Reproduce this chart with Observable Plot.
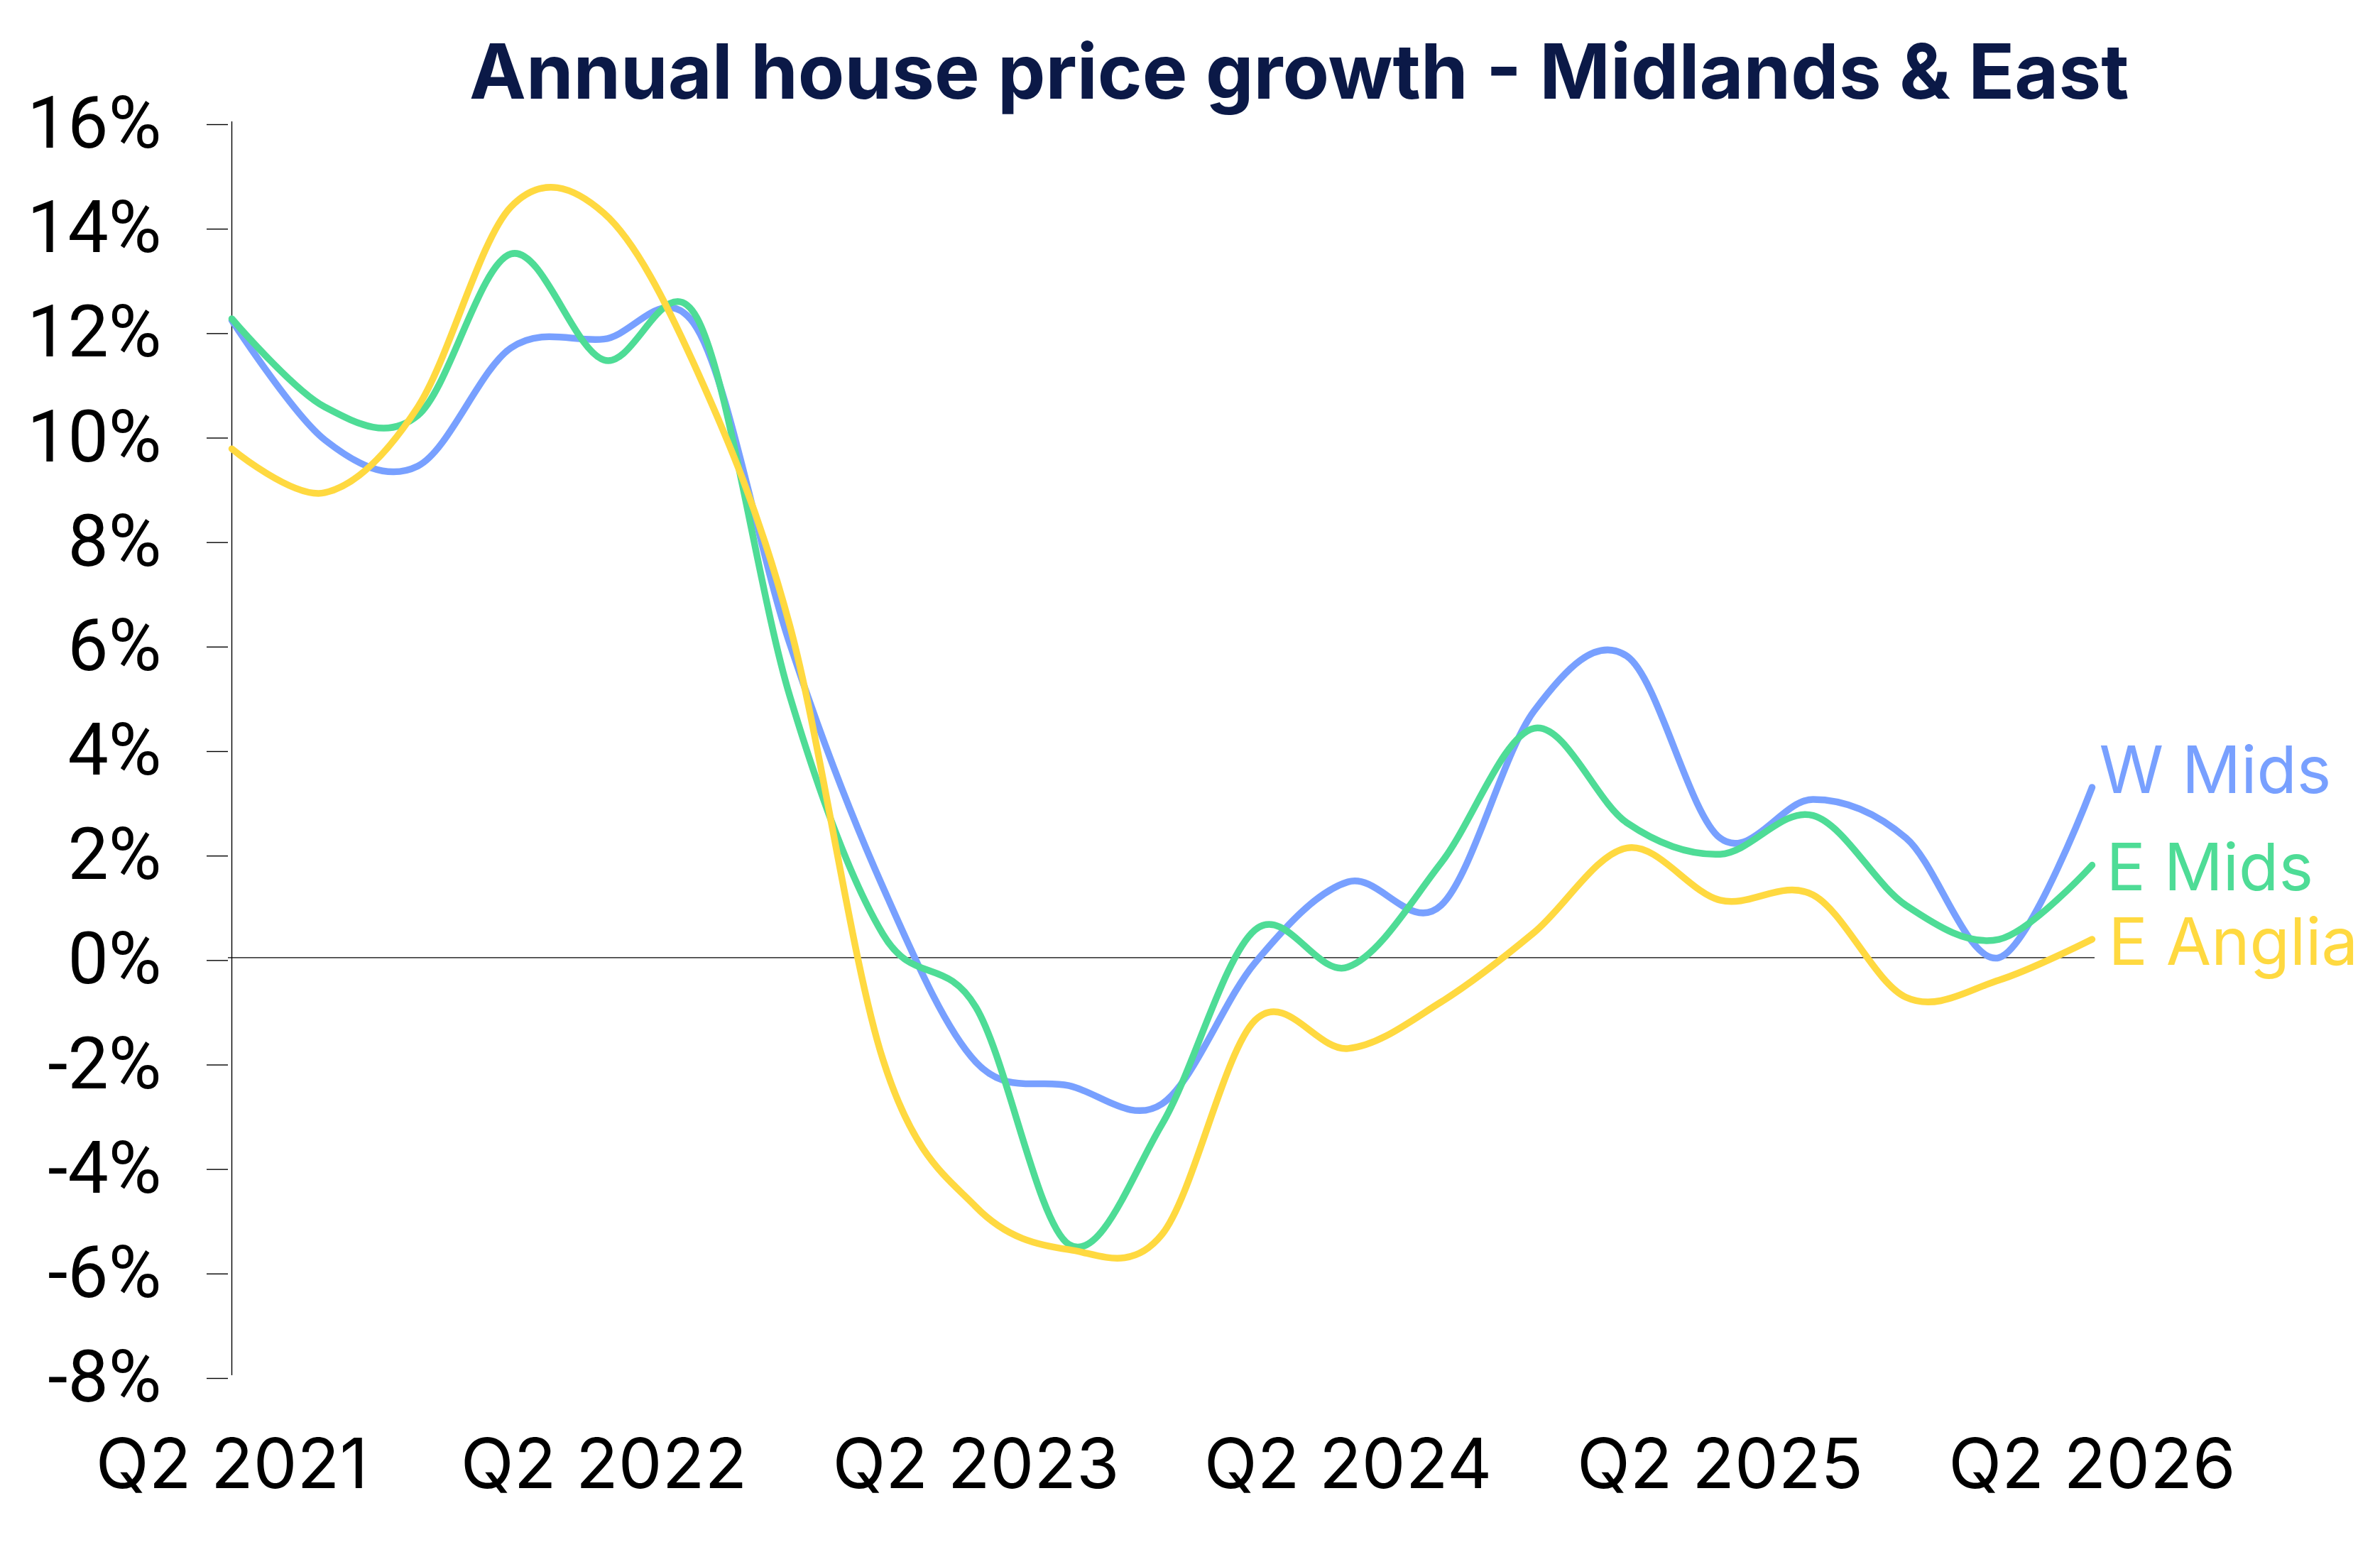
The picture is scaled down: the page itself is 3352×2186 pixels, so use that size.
<!DOCTYPE html>
<html>
<head>
<meta charset="utf-8">
<script src="https://cdn.jsdelivr.net/npm/d3@7"></script>
<script src="https://cdn.jsdelivr.net/npm/@observablehq/plot@0.6"></script>
<style>
  html, body { margin: 0; padding: 0; background: #ffffff; }
  #chart { width: 3352px; height: 2186px; }
</style>
</head>
<body>
<div id="chart"></div>
<script>
// ---- Data ----
const chartTitle = "Annual house price growth - Midlands & East";
const quarters = [
  "Q2 2021","Q3 2021","Q4 2021","Q1 2022",
  "Q2 2022","Q3 2022","Q4 2022","Q1 2023",
  "Q2 2023","Q3 2023","Q4 2023","Q1 2024",
  "Q2 2024","Q3 2024","Q4 2024","Q1 2025",
  "Q2 2025","Q3 2025","Q4 2025","Q1 2026",
  "Q2 2026"
];
const xTickLabels = ["Q2 2021","Q2 2022","Q2 2023","Q2 2024","Q2 2025","Q2 2026"];
const yTicks = [-8, -6, -4, -2, 0, 2, 4, 6, 8, 10, 12, 14, 16];
const seriesNames = ["W Mids", "E Mids", "E Anglia"];
const wMids   = [12.2, 9.91, 9.41, 11.67, 11.84, 12.05, 6.0, 1.35, -2.0, -2.45, -2.8, -0.1, 1.45, 1.0, 4.72, 5.77, 2.29, 3.03, 2.29, 0.0, 3.26];
const eMids   = [12.23, 10.54, 10.38, 13.47, 11.44, 12.25, 5.0, 0.45, -0.95, -5.49, -3.19, 0.53, -0.18, 1.81, 4.39, 2.58, 1.98, 2.72, 1.0, 0.35, 1.77];
const eAnglia = [9.74, 8.9, 10.54, 14.37, 14.25, 11.24, 6.35, -1.95, -4.77, -5.59, -5.3, -1.2, -1.74, -0.85, 0.48, 2.1, 1.1, 1.2, -0.76, -0.43, 0.35];
const seriesColors = ["#78a0ff", "#4edc96", "#ffd940"];

// ---- Build table ----
const seriesValues = [wMids, eMids, eAnglia];
const rows = seriesNames.flatMap((s, k) =>
  seriesValues[k].map((v, i) => ({series: s, quarter: quarters[i], value: v}))
);
const lastRows = seriesNames.map((s, k) => ({
  series: s, quarter: quarters[quarters.length - 1], value: seriesValues[k][seriesValues[k].length - 1]
}));

const axisFont = "Roboto, 'Noto Sans', sans-serif";
const labelFont = "Inter, 'Noto Sans', sans-serif";

const plot = Plot.plot({
  width: 3352,
  height: 2186,
  marginLeft: 321,
  marginRight: 402,
  marginTop: 171,
  marginBottom: 249,
  style: {fontFamily: axisFont, fontSize: "100px", color: "#000", background: "#ffffff", overflow: "visible"},
  x: {type: "point", domain: quarters, padding: 0, label: null},
  y: {domain: [-8, 16], label: null},
  color: {domain: seriesNames, range: seriesColors},
  marks: [
    Plot.axisX({ticks: xTickLabels, tickSize: 0, tickPadding: 89, fontSize: 98, fontFamily: labelFont, fill: "#000", label: null}),
    Plot.axisY({ticks: yTicks, tickFormat: d => d + "%", tickSize: 30, tickPadding: 64, fontSize: 102, fill: "#000", stroke: "#000", strokeWidth: 1.4, dy: 4, label: null}),
    Plot.ruleX([quarters[0]], {stroke: "#000", strokeWidth: 1.4}),
    Plot.ruleY([0], {stroke: "#000", strokeWidth: 1.4}),
    Plot.line(rows, {x: "quarter", y: "value", z: "series", stroke: "series", strokeWidth: 9.5, curve: "cardinal", tension: 0}),
    Plot.text(lastRows.filter(d => d.series === "W Mids"), {x: "quarter", y: "value", text: "series", fill: "series", fontFamily: labelFont, textAnchor: "start", fontSize: 92, dx: 10, dy: -21}),
    Plot.text(lastRows.filter(d => d.series === "E Mids"), {x: "quarter", y: "value", text: "series", fill: "series", fontFamily: labelFont, textAnchor: "start", fontSize: 92, dx: 20, dy: 6}),
    Plot.text(lastRows.filter(d => d.series === "E Anglia"), {x: "quarter", y: "value", text: "series", fill: "series", fontFamily: labelFont, textAnchor: "start", fontSize: 92, dx: 23, dy: 6})
  ]
});

// Title
const svg = d3.select(plot);
const t = svg.append("text")
  .attr("x", 661)
  .attr("y", 139)
  .attr("text-anchor", "start")
  .attr("font-family", labelFont)
  .attr("font-weight", 700)
  .attr("font-size", 107)
  .attr("fill", "#0b1947")
  .text(chartTitle);

document.getElementById("chart").appendChild(plot);
const w = t.node().getComputedTextLength();
if (Math.abs(w - 2347) > 10) {
  t.attr("textLength", 2347).attr("lengthAdjust", "spacingAndGlyphs");
}
</script>
</body>
</html>
